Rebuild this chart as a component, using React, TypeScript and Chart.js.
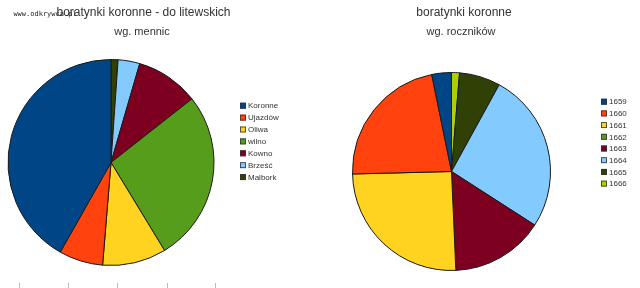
import React, { useEffect, useRef } from "react";
import { Chart, registerables } from "chart.js";

Chart.register(...registerables);

// ---- data ----
const mennice = ["Koronne", "Ujazdów", "Oliwa", "wilno", "Kowno", "Brześć", "Malbork"];
const menniceUdzial = [41.8, 6.9, 10.0, 26.9, 9.9, 3.4, 1.1];
const mennicaKolory = ["#004586", "#ff420e", "#ffd320", "#579d1c", "#7e0021", "#83caff", "#314004"];

const roczniki = ["1659", "1660", "1661", "1662", "1663", "1664", "1665", "1666"];
const rocznikiUdzial = [3.2, 22.2, 25.3, 0, 15.2, 26.1, 6.7, 1.3];
const rocznikKolory = ["#004586", "#ff420e", "#ffd320", "#579d1c", "#7e0021", "#83caff", "#314004", "#aecf00"];

const leftTitle = "boratynki koronne - do litewskich";
const leftSubtitle = "wg. mennic";
const rightTitle = "boratynki koronne";
const rightSubtitle = "wg. roczników";
const watermark = "www.odkrywca.pl";

type TextItem = { text: string; x: number; y: number; font: string; color: string };
type DecorCfg = {
  texts: TextItem[];
  legend: { labels: string[]; colors: string[]; x: number; y: number; step: number };
  ticks?: number[];
};

function makeDecor(cfg: DecorCfg) {
  return {
    id: "decor",
    afterDraw(chart: any) {
      const ctx = chart.ctx as CanvasRenderingContext2D;
      ctx.save();
      ctx.textBaseline = "middle";
      for (const t of cfg.texts) {
        ctx.font = t.font;
        ctx.fillStyle = t.color;
        ctx.textAlign = "center";
        ctx.fillText(t.text, t.x, t.y);
      }
      const lg = cfg.legend;
      ctx.font = "8px 'Liberation Sans', Arial, sans-serif";
      ctx.textAlign = "left";
      lg.labels.forEach((lab, i) => {
        const y = lg.y + i * lg.step;
        ctx.fillStyle = lg.colors[i];
        ctx.fillRect(lg.x, y - 3, 6, 6);
        ctx.strokeStyle = "#333";
        ctx.lineWidth = 0.8;
        ctx.strokeRect(lg.x + 0.5, y - 2.5, 5, 5);
        ctx.fillStyle = "#333";
        ctx.fillText(lab, lg.x + 8, y + 0.5);
      });
      if (cfg.ticks) {
        ctx.strokeStyle = "#bbb";
        ctx.lineWidth = 1;
        for (const tx of cfg.ticks) {
          ctx.beginPath();
          ctx.moveTo(tx + 0.5, 283);
          ctx.lineTo(tx + 0.5, 288);
          ctx.stroke();
        }
      }
      ctx.restore();
    },
  };
}

function PieChart(props: {
  labels: string[];
  values: number[];
  colors: string[];
  padding: { left: number; right: number; top: number; bottom: number };
  decor: DecorCfg;
  left: number;
}) {
  const ref = useRef<HTMLCanvasElement | null>(null);
  useEffect(() => {
    if (!ref.current) return;
    // drawn counter-clockwise from the top in the original: reverse for Chart.js clockwise
    const labels = [...props.labels].reverse();
    const values = [...props.values].reverse();
    const colors = [...props.colors].reverse();
    const chart = new Chart(ref.current, {
      type: "pie",
      data: {
        labels,
        datasets: [
          {
            data: values,
            backgroundColor: colors,
            borderColor: "#1a1a1a",
            borderWidth: 1,
          },
        ],
      },
      options: {
        animation: false,
        responsive: false,
        layout: { padding: props.padding },
        plugins: {
          legend: { display: false },
          title: { display: false },
          tooltip: { enabled: false },
        },
      },
      plugins: [makeDecor(props.decor)],
    });
    return () => chart.destroy();
  }, []);
  return (
    <canvas
      ref={ref}
      width={320}
      height={288}
      style={{ position: "absolute", left: props.left, top: 0, width: 320, height: 288 }}
    />
  );
}

export default function App() {
  const titleFont = "12px 'Liberation Sans', Arial, sans-serif";
  const subFont = "11px 'Liberation Sans', Arial, sans-serif";
  return (
    <div style={{ position: "fixed", left: 0, top: 0, width: 640, height: 288, background: "#fff" }}>
      <PieChart
        labels={mennice}
        values={menniceUdzial}
        colors={mennicaKolory}
        left={0}
        padding={{ left: 7.5, right: 105.5, top: 59, bottom: 22 }}
        decor={{
          texts: [
            { text: leftTitle, x: 143.5, y: 13, font: titleFont, color: "#333" },
            { text: leftSubtitle, x: 142, y: 32, font: subFont, color: "#333" },
            { text: watermark, x: 45, y: 14, font: "7px 'DejaVu Sans Mono', monospace", color: "#222" },
          ],
          legend: { labels: mennice, colors: mennicaKolory, x: 240, y: 105.7, step: 11.9 },
          ticks: [19, 68, 117, 167, 215],
        }}
      />
      <PieChart
        labels={roczniki}
        values={rocznikiUdzial}
        colors={rocznikKolory}
        left={320}
        padding={{ left: 32, right: 89, top: 72, bottom: 17 }}
        decor={{
          texts: [
            { text: rightTitle, x: 144, y: 13, font: titleFont, color: "#333" },
            { text: rightSubtitle, x: 141, y: 32, font: subFont, color: "#333" },
          ],
          legend: { labels: roczniki, colors: rocznikKolory, x: 281, y: 101.7, step: 11.7 },
        }}
      />
    </div>
  );
}
